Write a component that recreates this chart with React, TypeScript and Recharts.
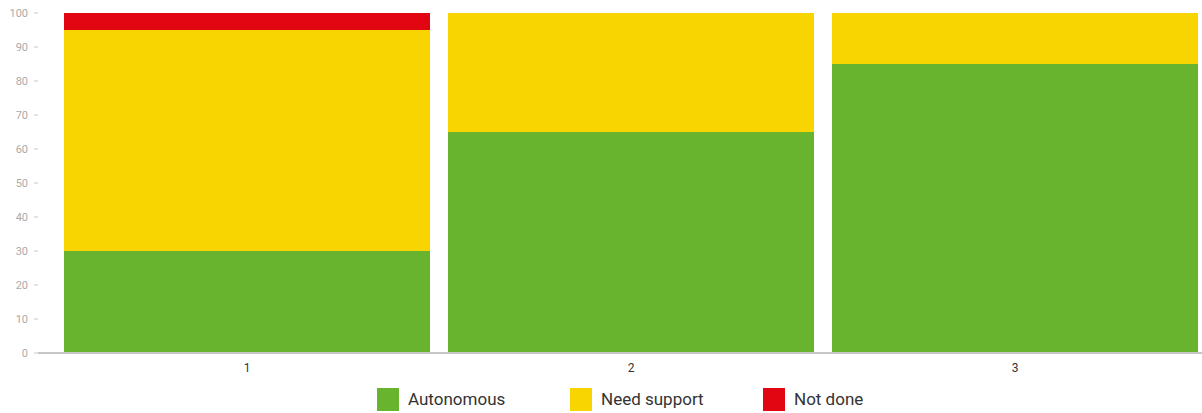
import { Bar, BarChart, CartesianGrid, Legend, XAxis, YAxis } from "recharts";

const categories = ["1", "2", "3"];
const autonomous = [30, 65, 85];
const needSupport = [65, 35, 15];
const notDone = [5, 0, 0];
const yTicks = [0, 10, 20, 30, 40, 50, 60, 70, 80, 90, 100];

const series = [
  { key: "autonomous", name: "Autonomous", color: "#68b42e" },
  { key: "needSupport", name: "Need support", color: "#f8d500" },
  { key: "notDone", name: "Not done", color: "#e20613" },
];

const data = categories.map((c, i) => ({
  name: c,
  autonomous: autonomous[i],
  needSupport: needSupport[i],
  notDone: notDone[i],
}));

const renderLegend = () => {
  return (
    <div style={{ display: "flex", paddingLeft: 377, paddingTop: 10, fontFamily: "Roboto, sans-serif" }}>
      {series.map((s) => (
        <div key={s.key} style={{ display: "flex", alignItems: "center", width: 193 }}>
          <div style={{ width: 22, height: 23, background: s.color, marginRight: 9 }} />
          <span style={{ fontSize: 17, color: "#333", lineHeight: "23px" }}>{s.name}</span>
        </div>
      ))}
    </div>
  );
};

const App = () => {
  return (
    <div style={{ position: "absolute", left: 0, top: 0, width: 1202, height: 413, overflow: "hidden" }}>
      <BarChart
        width={1207}
        height={413}
        data={data}
        margin={{ top: 13, right: 0, bottom: 0, left: 0 }}
        barCategoryGap={9}
      >
        <CartesianGrid vertical={false} horizontal={false} />
        <XAxis
          dataKey="name"
          height={25}
          padding={{ left: 17, right: 0 }}
          tickLine={false}
          axisLine={{ stroke: "#c8c8c8", strokeWidth: 2 }}
          tick={{ fill: "#333", fontSize: 12, fontFamily: "Roboto, sans-serif" }}
          tickMargin={4}
        />
        <YAxis
          width={38}
          domain={[0, 100]}
          ticks={yTicks}
          interval={0}
          axisLine={false}
          tickSize={4}
          tickMargin={6}
          tickLine={{ stroke: "#c8c8c8" }}
          tick={{ fill: "#aaa", fontSize: 11, fontFamily: "Roboto, sans-serif" }}
        />
        {series.map((s) => (
          <Bar
            key={s.key}
            dataKey={s.key}
            name={s.name}
            stackId="a"
            fill={s.color}
            isAnimationActive={false}
          />
        ))}
        <Legend content={renderLegend} verticalAlign="bottom" height={35} />
      </BarChart>
    </div>
  );
};

export default App;
